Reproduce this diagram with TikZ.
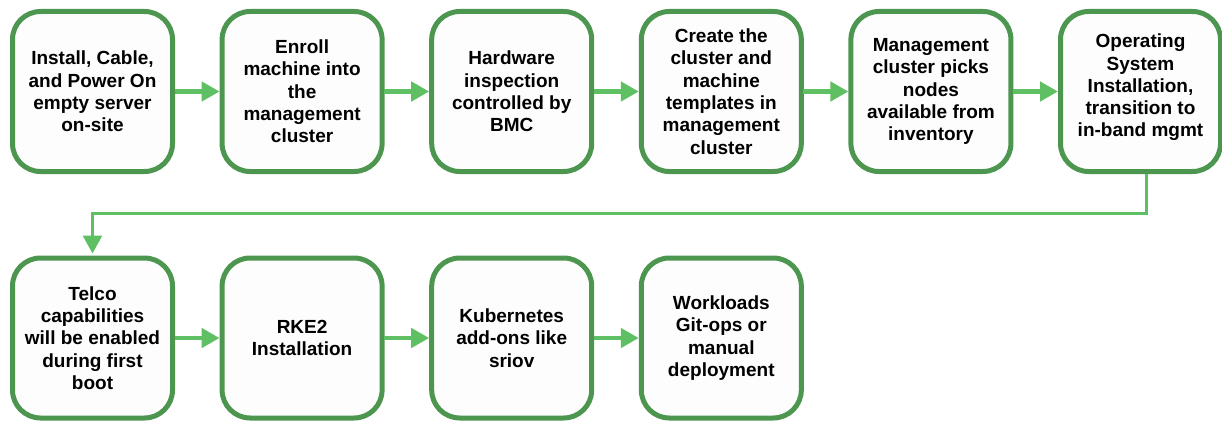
\documentclass[tikz,border=0pt]{standalone}
\usepackage{fontspec}
\setmainfont{Liberation Sans}
\usetikzlibrary{arrows.meta}
\definecolor{boxgreen}{RGB}{76,150,80}
\definecolor{flowgreen}{RGB}{94,192,98}
\definecolor{boxfill}{RGB}{253,253,253}
\tikzset{
  stepbox/.style={draw=boxgreen, line width=5pt, fill=boxfill, rounded corners=28pt,
    minimum width=160pt, minimum height=160pt, inner sep=0pt, align=center,
    font=\fontsize{19}{22.3}\selectfont\bfseries},
  steptext/.style={align=center, inner sep=0pt,
    font=\fontsize{19}{22.3}\selectfont\bfseries},
  flow/.style={draw=flowgreen, line width=4.5pt, -{Triangle[length=18pt,width=19pt]}, shorten <=-0.5pt},
  wrap/.style={draw=flowgreen, line width=3pt, -{Triangle[length=18pt,width=19pt]}}
}
\begin{document}
\begin{tikzpicture}[x=1pt,y=1pt]
\useasboundingbox (0,0) rectangle (1222,-420);
% first row
\node[stepbox] (b1) at (92.5,-91.5) {Install, Cable,\\and Power On\\empty server\\on-site};
\node[stepbox] (b2) at (302.1,-91.5) {Enroll\\machine into\\the\\management\\cluster};
\node[stepbox] (b3) at (511.7,-91.5) {Hardware\\inspection\\controlled by\\BMC};
\node[stepbox] (b4) at (721.3,-91.5) {Create the\\cluster and\\machine\\templates in\\management\\cluster};
\node[stepbox] (b5) at (930.9,-91.5) {Management\\cluster picks\\nodes\\available from\\inventory};
\node[stepbox] (b6) at (1140.5,-91.5) {};
\node[steptext] (b6text) at ([yshift=4]b6.center) {Operating\\System\\Installation,\\transition to\\in-band mgmt};
% second row
\node[stepbox] (b7) at (92.5,-338) {Telco\\capabilities\\will be enabled\\during first\\boot};
\node[stepbox] (b8) at (302.1,-338) {RKE2\\Installation};
\node[stepbox] (b9) at (511.7,-338) {Kubernetes\\add-ons like\\sriov};
\node[stepbox] (b10) at (721.3,-338) {Workloads\\Git-ops or\\manual\\deployment};
% connectors
\draw[flow] (b1) -- (b2);
\draw[flow] (b2) -- (b3);
\draw[flow] (b3) -- (b4);
\draw[flow] (b4) -- (b5);
\draw[flow] (b5) -- (b6);
\coordinate (wrapstart) at ([xshift=6pt]b6.south);
\draw[wrap] (wrapstart) -- ++(0,-39) -| ([yshift=2pt]b7.north);
\draw[flow] (b7) -- (b8);
\draw[flow] (b8) -- (b9);
\draw[flow] (b9) -- (b10);
\end{tikzpicture}
\end{document}
